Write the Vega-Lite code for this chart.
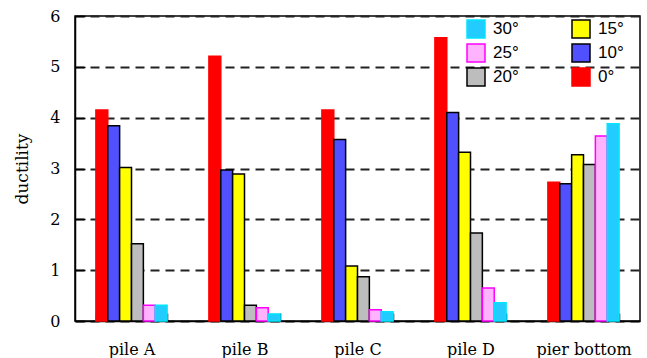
{
  "$schema": "https://vega.github.io/schema/vega-lite/v6.json",
  "width": 565,
  "height": 305,
  "autosize": {"type": "none"},
  "padding": {"left": 75, "top": 16, "right": 7, "bottom": 37},
  "background": "white",
  "config": {"view": {"stroke": "black", "strokeWidth": 1.5}},
  "data": {
    "values": [
      {"location": "pile A", "angle": "0°", "ductility": 4.15},
      {"location": "pile A", "angle": "10°", "ductility": 3.84},
      {"location": "pile A", "angle": "15°", "ductility": 3.02},
      {"location": "pile A", "angle": "20°", "ductility": 1.52},
      {"location": "pile A", "angle": "25°", "ductility": 0.31},
      {"location": "pile A", "angle": "30°", "ductility": 0.31},
      {"location": "pile B", "angle": "0°", "ductility": 5.21},
      {"location": "pile B", "angle": "10°", "ductility": 2.97},
      {"location": "pile B", "angle": "15°", "ductility": 2.89},
      {"location": "pile B", "angle": "20°", "ductility": 0.31},
      {"location": "pile B", "angle": "25°", "ductility": 0.26},
      {"location": "pile B", "angle": "30°", "ductility": 0.14},
      {"location": "pile C", "angle": "0°", "ductility": 4.15},
      {"location": "pile C", "angle": "10°", "ductility": 3.57},
      {"location": "pile C", "angle": "15°", "ductility": 1.08},
      {"location": "pile C", "angle": "20°", "ductility": 0.87},
      {"location": "pile C", "angle": "25°", "ductility": 0.22},
      {"location": "pile C", "angle": "30°", "ductility": 0.18},
      {"location": "pile D", "angle": "0°", "ductility": 5.57},
      {"location": "pile D", "angle": "10°", "ductility": 4.10},
      {"location": "pile D", "angle": "15°", "ductility": 3.32},
      {"location": "pile D", "angle": "20°", "ductility": 1.73},
      {"location": "pile D", "angle": "25°", "ductility": 0.65},
      {"location": "pile D", "angle": "30°", "ductility": 0.36},
      {"location": "pier bottom", "angle": "0°", "ductility": 2.73},
      {"location": "pier bottom", "angle": "10°", "ductility": 2.70},
      {"location": "pier bottom", "angle": "15°", "ductility": 3.27},
      {"location": "pier bottom", "angle": "20°", "ductility": 3.08},
      {"location": "pier bottom", "angle": "25°", "ductility": 3.64},
      {"location": "pier bottom", "angle": "30°", "ductility": 3.88}
    ]
  },
  "mark": {"type": "bar", "strokeWidth": 1.5, "opacity": 1},
  "encoding": {
    "x": {
      "field": "location",
      "type": "nominal",
      "sort": ["pile A", "pile B", "pile C", "pile D", "pier bottom"],
      "scale": {"paddingInner": 0.37, "paddingOuter": 0.185},
      "axis": {
        "title": null,
        "labelAngle": 0,
        "tickBand": "extent",
        "tickSize": -8,
        "tickWidth": 1.5,
        "tickColor": "black",
        "domainColor": "black",
        "domainWidth": 1.5,
        "labelPadding": 28,
        "labelFont": "DejaVu Serif",
        "labelFontSize": 16,
        "labelColor": "black",
        "grid": false
      }
    },
    "xOffset": {
      "field": "angle",
      "type": "nominal",
      "sort": ["0°", "10°", "15°", "20°", "25°", "30°"],
      "scale": {"paddingInner": 0, "paddingOuter": 0}
    },
    "y": {
      "field": "ductility",
      "type": "quantitative",
      "scale": {"domain": [0, 6], "nice": false},
      "axis": {
        "title": "ductility",
        "titleFont": "DejaVu Serif",
        "titleFontSize": 17,
        "titleFontWeight": "normal",
        "titleColor": "black",
        "titlePadding": 18,
        "values": [0, 1, 2, 3, 4, 5, 6],
        "tickSize": -10,
        "tickWidth": 1.5,
        "tickColor": "black",
        "domainColor": "black",
        "domainWidth": 1.5,
        "labelPadding": 25,
        "labelFont": "DejaVu Serif",
        "labelFontSize": 16,
        "labelColor": "black",
        "grid": true,
        "gridDash": [9, 6],
        "gridColor": "#222222",
        "gridWidth": 2
      }
    },
    "fill": {
      "field": "angle",
      "type": "nominal",
      "scale": {
        "domain": ["30°", "25°", "20°", "15°", "10°", "0°"],
        "range": ["#22ccff", "#ffb3ff", "#bdbdbd", "#ffff00", "#5050ff", "#ff0000"]
      },
      "legend": {
        "orient": "none",
        "legendX": 391,
        "legendY": 3,
        "columns": 2,
        "columnPadding": 50,
        "rowPadding": 0,
        "padding": 0,
        "title": null,
        "symbolType": "square",
        "symbolSize": 324,
        "symbolStrokeWidth": 1.5,
        "symbolOpacity": 1,
        "labelFont": "Liberation Sans",
        "labelFontSize": 17,
        "labelColor": "black",
        "labelOffset": 7
      }
    },
    "stroke": {
      "field": "angle",
      "type": "nominal",
      "scale": {
        "domain": ["30°", "25°", "20°", "15°", "10°", "0°"],
        "range": ["#00e5ff", "#ff00ff", "#000000", "#000000", "#000000", "#ff0000"]
      },
      "legend": {
        "orient": "none",
        "legendX": 391,
        "legendY": 3,
        "columns": 2,
        "columnPadding": 50,
        "rowPadding": 0,
        "padding": 0,
        "title": null,
        "symbolType": "square",
        "symbolSize": 324,
        "symbolStrokeWidth": 1.5,
        "symbolOpacity": 1,
        "labelFont": "Liberation Sans",
        "labelFontSize": 17,
        "labelColor": "black",
        "labelOffset": 7
      }
    }
  }
}
